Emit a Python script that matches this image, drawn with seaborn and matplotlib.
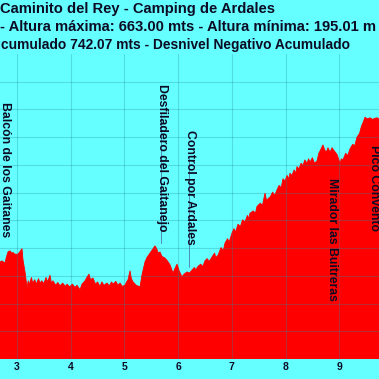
import numpy as np
import pandas as pd
import seaborn as sns
import matplotlib.pyplot as plt

# profile (km, metres)
km = [2.683, 2.72, 2.776, 2.80, 2.832, 2.87, 2.90, 2.925, 2.96, 3.018,
      3.05, 3.093, 3.111, 3.149, 3.186, 3.21, 3.23, 3.242, 3.27, 3.29,
      3.33, 3.36, 3.40, 3.428, 3.46, 3.50, 3.54, 3.57, 3.614, 3.64,
      3.670, 3.72, 3.76, 3.800, 3.85, 3.90, 3.931, 3.98, 4.03, 4.08,
      4.117, 4.173, 4.21, 4.266, 4.30, 4.340, 4.37, 4.415, 4.46, 4.50,
      4.545, 4.58, 4.62, 4.676, 4.72, 4.76, 4.787, 4.84, 4.88, 4.918,
      4.96, 5.011, 5.04, 5.067, 5.104, 5.13, 5.160, 5.22, 5.290, 5.33,
      5.383, 5.42, 5.476, 5.52, 5.569, 5.60, 5.63, 5.663, 5.70, 5.756,
      5.80, 5.849, 5.905, 5.94, 5.979, 6.02, 6.072, 6.11, 6.165, 6.21,
      6.258, 6.30, 6.33, 6.370, 6.42, 6.46, 6.500, 6.54, 6.58, 6.631,
      6.68, 6.70, 6.743, 6.80, 6.84, 6.873, 6.92, 6.95, 7.003, 7.04,
      7.07, 7.115, 7.16, 7.20, 7.245, 7.29, 7.31, 7.339, 7.40, 7.44,
      7.469, 7.53, 7.57, 7.618, 7.65, 7.674, 7.72, 7.76, 7.80, 7.841,
      7.88, 7.92, 7.953, 7.99, 8.03, 8.06, 8.083, 8.12, 8.16, 8.19,
      8.214, 8.25, 8.29, 8.325, 8.36, 8.40, 8.43, 8.456, 8.50, 8.54,
      8.586, 8.62, 8.642, 8.698, 8.73, 8.76, 8.791, 8.83, 8.865, 8.91,
      8.959, 9.015, 9.04, 9.070, 9.12, 9.16, 9.201, 9.25, 9.29, 9.331,
      9.38, 9.40, 9.424, 9.45, 9.480, 9.52, 9.573, 9.62, 9.66, 9.703,
      9.741]
altura = [402, 404, 400, 410, 420, 422, 418, 419, 416, 416,
          420, 426, 406, 384, 357, 368, 360, 366, 374, 364,
          370, 362, 372, 364, 368, 363, 374, 366, 378, 364,
          368, 360, 365, 359, 364, 358, 362, 357, 362, 356,
          360, 352, 362, 368, 374, 380, 370, 373, 362, 366,
          358, 366, 360, 364, 359, 366, 362, 367, 360, 364,
          358, 360, 366, 370, 386, 372, 366, 360, 357, 380,
          402, 410, 418, 424, 431, 426, 418, 420, 412, 409,
          404, 397, 382, 390, 398, 386, 375, 380, 384, 382,
          387, 392, 388, 394, 398, 394, 404, 408, 403, 411,
          418, 410, 414, 428, 422, 436, 444, 438, 454, 462,
          456, 470, 466, 478, 474, 486, 480, 490, 494, 490,
          502, 508, 504, 526, 512, 516, 520, 528, 522, 532,
          540, 536, 552, 548, 558, 552, 562, 558, 568, 562,
          574, 570, 580, 576, 586, 580, 588, 582, 590, 580,
          584, 598, 602, 613, 604, 600, 608, 600, 608, 602,
          596, 580, 588, 586, 598, 594, 606, 614, 612, 627,
          634, 642, 649, 655, 663, 660, 662, 659, 661, 662,
          660]

waypoints = ["Balcón de los Gaitanes", "Desfiladero del Gaitanejo",
             "Control por Ardales", "Mirador las Buitreras", "Pico Convento"]
wp_km = [2.777, 5.700, 6.222, 8.873, 9.654]
wp_top = [690, 723, 640, 553, 613]

titulo = ["Caminito del Rey - Camping de Ardales",
          "- Altura máxima: 663.00 mts - Altura mínima: 195.01 m",
          "cumulado 742.07 mts - Desnivel Negativo Acumulado"]

df = pd.DataFrame({"km": km, "altura": altura})

sns.set_style("white")
plt.rcParams["font.family"] = ["Liberation Sans", "DejaVu Sans"]

cyan = "#66ffff"
ink = "#0c0c24"
ymin, ymax = 227, 777

fig = plt.figure(figsize=(3.79, 3.79), dpi=100, facecolor=cyan)
ax = fig.add_axes([0, 0.0528, 1, 0.8047], facecolor=cyan)

ax.fill_between(df["km"], df["altura"], ymin, color="#ff0000", lw=0, zorder=2)
sns.lineplot(data=df, x="km", y="altura", ax=ax, color="#ff0000", lw=0.6, zorder=3)

for x, top, name in zip(wp_km, wp_top, waypoints):
    ax.text(x, top, name, rotation=-90, ha="center", va="top", fontsize=8.8,
            fontweight="bold", color=ink, zorder=5)

# thin marker lines from labels down to the profile
ax.plot([5.681, 5.681], [670, 436], color="#4a7ab0", lw=0.6, zorder=4)
ax.plot([6.203, 6.203], [590, 392], color="#4a7ab0", lw=0.6, zorder=4)

ax.set_xlim(2.683, 9.741)
ax.set_ylim(ymin, ymax)
ax.set_xticks(range(3, 10))
ax.set_yticks(np.arange(ymin, ymax - 1, 50))
ax.set_yticklabels([])
ax.grid(True, color="#1e8c9c", alpha=0.3, lw=0.8, zorder=4)
ax.set_axisbelow(False)
ax.tick_params(axis="x", length=0, pad=2, labelsize=7.5, colors=ink)
for lab in ax.get_xticklabels():
    lab.set_fontweight("bold")
ax.set_xlabel("")
ax.set_ylabel("")
for s in ax.spines.values():
    s.set_visible(False)

for t, x, y, fs in zip(titulo, [0.0, 0.0, 0.002], [0.976, 0.929, 0.881],
                       [10.6, 10.6, 9.95]):
    fig.text(x, y, t, ha="left", va="center", fontsize=fs,
             fontweight="bold", color=ink)

fig.savefig("out.png", dpi=100, facecolor=cyan)
